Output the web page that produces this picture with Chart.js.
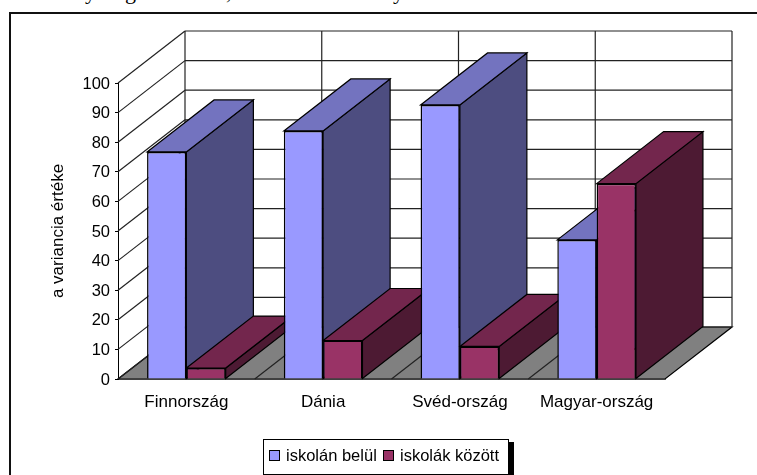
<!DOCTYPE html>
<html lang="hu">
<head>
  <meta charset="UTF-8">
  <title>Variancia</title>
  <script src="https://cdn.jsdelivr.net/npm/chart.js"></script>
  <style>
    html, body {
      margin: 0;
      height: 100%;
      background: white;
      overflow: hidden;
    }
    #frame {
      position: absolute;
      left: 9px;
      top: 12px;
      right: 0;
      bottom: 0;
      border-left: 2px solid #111;
      border-top: 2px solid #111;
    }
    canvas {
      position: absolute;
      left: 0;
      top: 0;
    }
    /* line of body text above the chart, cut off by the page edge */
    .cut {
      position: absolute;
      top: -19px;
      font: 22px/22px "Liberation Serif", serif;
      color: #000;
    }
    #legend {
      position: absolute;
      left: 263px;
      top: 439px;
      width: 244px;
      height: 34px;
      border: 1px solid #000;
      background: white;
      box-shadow: 5px 3px 0 #000;
      font: 16.5px "Liberation Sans", Arial, sans-serif;
      color: #000;
    }
    #legend span {
      position: absolute;
      top: 6px;
      white-space: nowrap;
    }
    #legend i {
      position: absolute;
      top: 10px;
      width: 9px;
      height: 9px;
      border: 1px solid #000;
    }
  </style>
</head>
<body>
  <span class="cut" style="left:85px">y</span>
  <span class="cut" style="left:125px">g</span>
  <span class="cut" style="left:226px">,</span>
  <span class="cut" style="left:393px">y</span>
  <div id="frame"></div>
  <canvas id="chart" width="757" height="475"></canvas>
  <div id="legend"></div>

  <script>
    const categories = ['Finnország', 'Dánia', 'Svéd-ország', 'Magyar-ország'];
    const seriesNames = ['iskolán belül', 'iskolák között'];
    const withinSchools = [76.7, 83.8, 92.6, 47];
    const betweenSchools = [3.7, 13, 11, 66];
    const axisTitle = 'a variancia értéke';

    const COLORS = [
      { front: '#9999ff', top: '#7373bf', side: '#4d4d80' },
      { front: '#993366', top: '#73264d', side: '#4d1a33' }
    ];
    const FONT = '"Liberation Sans", Arial, sans-serif';

    // how far the 3D box runs backwards
    const DEPTH_X = 67;
    const DEPTH_Y = -52;

    function quad(ctx, pts, fill) {
      ctx.beginPath();
      ctx.moveTo(pts[0][0], pts[0][1]);
      for (let i = 1; i < pts.length; i++) ctx.lineTo(pts[i][0], pts[i][1]);
      ctx.closePath();
      if (fill) {
        ctx.fillStyle = fill;
        ctx.fill();
      }
      ctx.stroke();
    }

    function segment(ctx, x1, y1, x2, y2) {
      ctx.beginPath();
      ctx.moveTo(x1, y1);
      ctx.lineTo(x2, y2);
      ctx.stroke();
    }

    // back wall, side wall and floor, then the sides and tops of the bars.
    // Chart.js paints the front faces afterwards, which covers what it should.
    const boxPlugin = {
      id: 'box3d',
      beforeDatasetsDraw(chart) {
        const ctx = chart.ctx;
        const area = chart.chartArea;
        const y = chart.scales.y;
        const floorY = y.getPixelForValue(0);

        ctx.save();
        ctx.lineWidth = 1.2;
        ctx.strokeStyle = '#000';

        quad(ctx, [
          [area.left, floorY],
          [area.right, floorY],
          [area.right + DEPTH_X, floorY + DEPTH_Y],
          [area.left + DEPTH_X, floorY + DEPTH_Y]
        ], '#808080');

        ctx.strokeStyle = '#222';
        y.ticks.forEach(t => {
          const py = y.getPixelForValue(t.value);
          segment(ctx, area.left, py, area.left + DEPTH_X, py + DEPTH_Y);
          segment(ctx, area.left + DEPTH_X, py + DEPTH_Y, area.right + DEPTH_X, py + DEPTH_Y);
        });

        // verticals on the back wall and matching lines across the floor
        const step = (area.right - area.left) / categories.length;
        for (let i = 0; i <= categories.length; i++) {
          const px = area.left + i * step;
          segment(ctx, px + DEPTH_X, y.getPixelForValue(100) + DEPTH_Y, px + DEPTH_X, floorY + DEPTH_Y);
          if (i > 0 && i < categories.length) {
            segment(ctx, px, floorY, px + DEPTH_X, floorY + DEPTH_Y);
          }
        }

        ctx.strokeStyle = '#000';
        categories.forEach((c, i) => {
          chart.data.datasets.forEach((ds, d) => {
            const bar = chart.getDatasetMeta(d).data[i];
            const left = bar.x - bar.width / 2;
            const right = bar.x + bar.width / 2;
            quad(ctx, [
              [right, bar.y],
              [right + DEPTH_X, bar.y + DEPTH_Y],
              [right + DEPTH_X, bar.base + DEPTH_Y],
              [right, bar.base]
            ], COLORS[d].side);
            quad(ctx, [
              [left, bar.y],
              [left + DEPTH_X, bar.y + DEPTH_Y],
              [right + DEPTH_X, bar.y + DEPTH_Y],
              [right, bar.y]
            ], COLORS[d].top);
          });
        });
        ctx.restore();
      }
    };

    new Chart(document.getElementById('chart').getContext('2d'), {
      type: 'bar',
      data: {
        labels: categories,
        datasets: [
          { label: seriesNames[0], data: withinSchools, backgroundColor: COLORS[0].front, borderColor: '#000', borderWidth: 1.5 },
          { label: seriesNames[1], data: betweenSchools, backgroundColor: COLORS[1].front, borderColor: '#000', borderWidth: 1.5 }
        ]
      },
      options: {
        responsive: false,
        animation: false,
        layout: { padding: { top: 83, right: 92 } },
        datasets: { bar: { categoryPercentage: 0.575, barPercentage: 1 } },
        plugins: { legend: { display: false }, tooltip: { enabled: false } },
        scales: {
          x: {
            afterFit(scale) { scale.height = 96; },
            grid: { display: false },
            border: { color: '#808080' },
            ticks: { color: '#000', padding: 5, maxRotation: 0, font: { size: 17, family: FONT } }
          },
          y: {
            min: 0,
            max: 100,
            afterFit(scale) { scale.width = 118; },
            grid: { drawOnChartArea: false, tickLength: 3, color: '#000' },
            border: { color: '#000' },
            ticks: { stepSize: 10, color: '#000', padding: 5, labelOffset: 1, font: { size: 16.5, family: FONT } },
            title: { display: true, text: axisTitle, color: '#000', padding: { top: 48, bottom: 0 }, font: { size: 17, family: FONT } }
          }
        }
      },
      plugins: [boxPlugin]
    });

    // legend sits off-centre with a hard shadow, so it is built by hand from the series
    const legend = document.getElementById('legend');
    const swatchLeft = [5, 119];
    const labelLeft = [22, 136];
    seriesNames.forEach((name, i) => {
      const swatch = document.createElement('i');
      swatch.style.left = swatchLeft[i] + 'px';
      swatch.style.background = COLORS[i].front;
      const label = document.createElement('span');
      label.style.left = labelLeft[i] + 'px';
      label.textContent = name;
      legend.append(swatch, label);
    });
  </script>
</body>
</html>
